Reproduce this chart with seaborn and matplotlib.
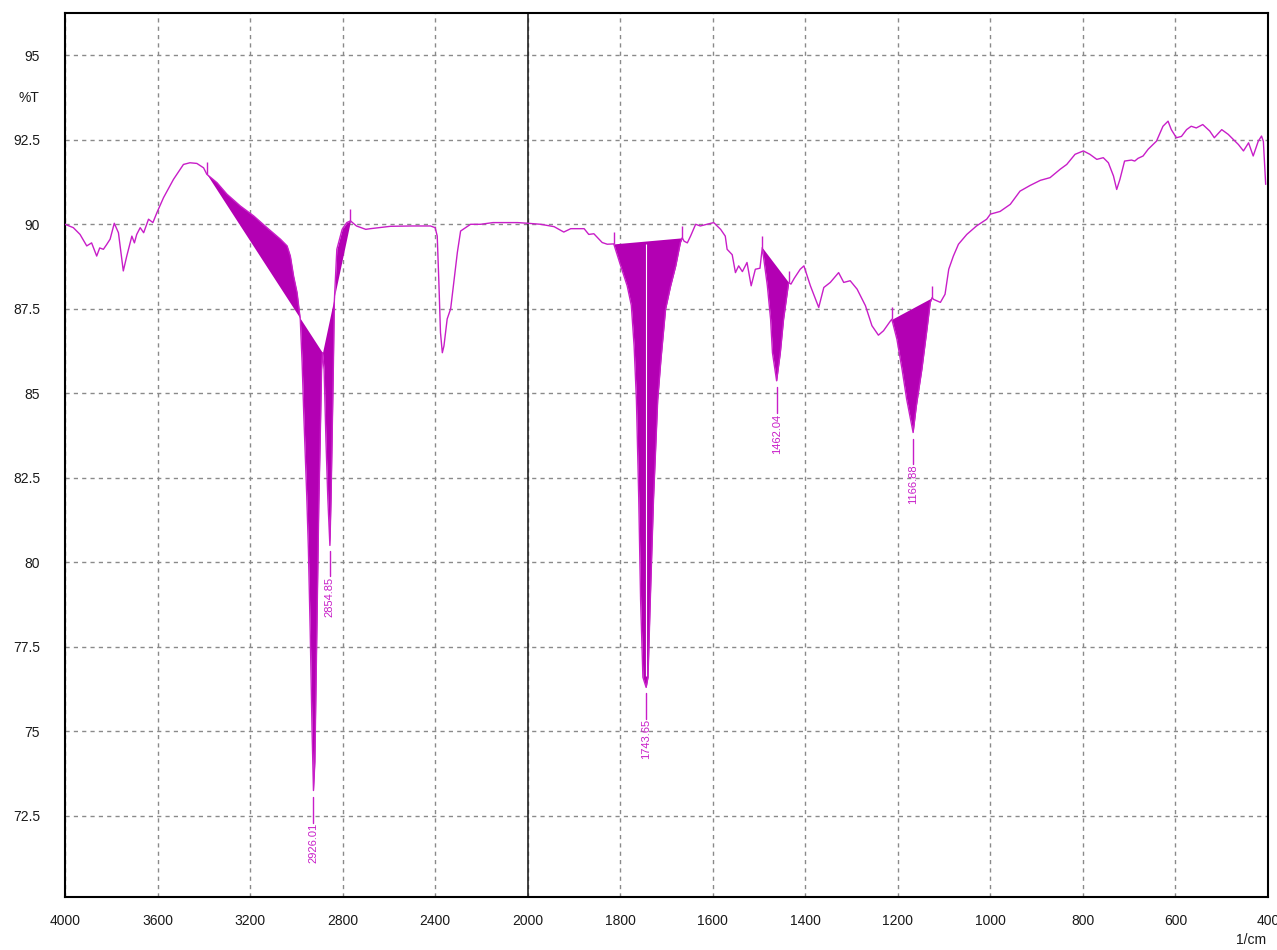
import numpy as np
import pandas as pd
import seaborn as sns
import matplotlib.pyplot as plt
from matplotlib.ticker import FixedLocator

# Spectrum (wavenumber in 1/cm, transmittance in %T)
wavenumber = [
    4000, 3964, 3935, 3906, 3885, 3863, 3850, 3834, 3820, 3805, 3787, 3769, 3748, 3733,
    3711, 3700, 3690, 3675, 3660, 3639, 3620, 3603, 3574, 3531, 3488, 3460, 3430, 3401,
    3387, 3343, 3300, 3242, 3185, 3127, 3069, 3040, 3026, 3012, 2997, 2983, 2975, 2968,
    2955, 2948, 2940, 2932, 2926, 2920, 2912, 2903, 2897, 2891, 2887, 2880, 2872, 2864,
    2855, 2850, 2845, 2840, 2836, 2825, 2802, 2782, 2766, 2740, 2700, 2680, 2593, 2500,
    2420, 2400, 2391, 2384, 2377, 2369, 2362, 2348, 2333, 2319, 2304, 2290, 2247, 2203,
    2150, 2044, 2000, 1972, 1943, 1922, 1907, 1878, 1868, 1857, 1839, 1828, 1814, 1799,
    1785, 1776, 1770, 1765, 1760, 1756, 1751, 1744, 1740, 1735, 1728, 1719, 1712, 1702,
    1691, 1680, 1670, 1666, 1662, 1655, 1648, 1637, 1627, 1612, 1598, 1583, 1573, 1569,
    1558, 1551, 1544, 1536, 1526, 1517, 1508, 1498, 1493, 1482, 1475, 1471, 1462, 1454,
    1447, 1439, 1436, 1431, 1424, 1411, 1403, 1389, 1371, 1360, 1346, 1328, 1317, 1303,
    1288, 1270, 1256, 1242, 1231, 1216, 1213, 1202, 1191, 1181, 1167, 1160, 1148, 1137,
    1130, 1126, 1123, 1108, 1098, 1090, 1080, 1069, 1051, 1030, 1008, 1000, 979, 957,
    936, 914, 892, 871, 849, 835, 817, 799, 785, 770, 756, 745, 734, 727,
    720, 710, 695, 688, 681, 670, 659, 641, 627, 616, 609, 598, 587, 576,
    566, 555, 541, 526, 516, 500, 486, 475, 464, 453, 442, 432, 421, 414,
    410, 405,
]
transmittance = [
    90.0, 89.9, 89.7, 89.36, 89.45, 89.06, 89.3, 89.26, 89.4, 89.56, 90.03, 89.75, 88.62, 89.06,
    89.65, 89.45, 89.7, 89.9, 89.75, 90.15, 90.05, 90.34, 90.79, 91.33, 91.77, 91.82, 91.8, 91.67,
    91.48, 91.23, 90.89, 90.54, 90.25, 89.9, 89.56, 89.36, 89.06, 88.47, 87.98, 87.19, 85.9, 84.4,
    81.96, 80.4, 77.94, 75.0, 73.25, 74.1, 77.7, 81.7, 83.6, 85.7, 86.2, 85.7, 83.6, 81.9,
    80.5, 81.9, 83.8, 85.8, 87.7, 89.26, 89.85, 90.05, 90.1, 89.95, 89.85, 89.87, 89.94, 89.95,
    89.95, 89.9, 89.65, 88.3, 86.8, 86.2, 86.4, 87.2, 87.5, 88.3, 89.17, 89.8, 90.0, 90.0,
    90.05, 90.05, 90.03, 90.0, 89.93, 89.77, 89.87, 89.87, 89.7, 89.72, 89.46, 89.41, 89.42, 88.77,
    88.18, 87.6, 86.4, 84.8, 81.9, 78.9, 76.6, 76.3, 76.6, 78.9, 81.9, 84.8, 86.0, 87.49,
    88.18, 88.77, 89.46, 89.6, 89.5, 89.45, 89.65, 90.0, 89.95, 90.0, 90.05, 89.85, 89.65, 89.26,
    89.1, 88.57, 88.77, 88.6, 88.87, 88.18, 88.67, 88.7, 89.31, 88.18, 87.19, 86.2, 85.37, 86.2,
    87.19, 87.98, 88.28, 88.23, 88.4, 88.67, 88.77, 88.18, 87.54, 88.13, 88.28, 88.57, 88.28, 88.33,
    88.08, 87.59, 87.0, 86.72, 86.85, 87.14, 87.19, 86.6, 85.72, 84.83, 83.84, 84.63, 85.72, 86.9,
    87.69, 87.83, 87.78, 87.69, 87.93, 88.67, 89.06, 89.41, 89.7, 89.95, 90.15, 90.3, 90.38, 90.59,
    90.98, 91.15, 91.3, 91.38, 91.63, 91.77, 92.07, 92.17, 92.07, 91.92, 91.97, 91.82, 91.43, 91.03,
    91.33, 91.87, 91.9, 91.87, 91.95, 92.02, 92.22, 92.46, 92.9, 93.05, 92.8, 92.56, 92.6, 92.8,
    92.9, 92.85, 92.95, 92.76, 92.56, 92.8, 92.66, 92.51, 92.36, 92.17, 92.41, 92.02, 92.46, 92.61,
    92.45, 91.18,
]

# Peak picking regions (start, end) and picked peaks
region_start = [3387, 2887, 1814, 1493, 1213]
region_end = [2887, 2766, 1666, 1436, 1126]
region_marks = [3387, 2766, 1814, 1666, 1493, 1436, 1213, 1126]
peak_wn = [2926.01, 2854.85, 1743.65, 1462.04, 1166.88]

x_major = [4000, 3600, 3200, 2800, 2400, 2000, 1800, 1600, 1400, 1200, 1000, 800, 600, 400]
y_major = [72.5, 75, 77.5, 80, 82.5, 85, 87.5, 90, 92.5, 95]
y_labels = ["72.5", "75", "77.5", "80", "82.5", "85", "87.5", "90", "92.5", "95"]

line_color = "#c81ec8"
fill_color = "#b300b3"

df = pd.DataFrame({"wn": wavenumber, "T": transmittance})
wn = df["wn"].to_numpy(float)
t = df["T"].to_numpy(float)


def t_at(x):
    return np.interp(x, wn[::-1], t[::-1])


# x axis is compressed 2:1 above 2000 1/cm, like the instrument printout
def fwd(x):
    x = np.asarray(x, float)
    return np.where(x >= 2000, x, 2 * x - 2000)


def inv(y):
    y = np.asarray(y, float)
    return np.where(y >= 2000, y, (y + 2000) / 2)


sns.set_style("white")
plt.rcParams["font.family"] = ["Liberation Sans", "DejaVu Sans"]

fig = plt.figure(figsize=(12.77, 9.5), dpi=100)
ax = fig.add_axes([65 / 1277, 53 / 950, 1203 / 1277, 884 / 950])

sns.lineplot(data=df, x="wn", y="T", color=line_color, lw=1, sort=False,
             estimator=None, ax=ax, zorder=3)

# filled peak areas between spectrum and local baseline
for s, e in zip(region_start, region_end):
    m = (wn <= s) & (wn >= e)
    xs, ys = wn[m], t[m]
    base = np.interp(xs, [e, s], [t_at(e), t_at(s)])
    ax.fill_between(xs, ys, base, color=fill_color, lw=0, zorder=2)

ax.vlines(region_marks, t_at(region_marks), t_at(region_marks) + 0.35,
          color=line_color, lw=1, zorder=3)

# white marker inside the carbonyl band
i = 2
s, e = region_start[i], region_end[i]
b = np.interp(peak_wn[i], [e, s], [t_at(e), t_at(s)])
ax.vlines(peak_wn[i], t_at(peak_wn[i]) + 0.3, b - 0.1, color="white", lw=0.8, zorder=3)

# peak labels
for p in peak_wn:
    tip = t_at(p)
    ax.plot([p, p], [tip - 0.2, tip - 0.95], color=line_color, lw=1, zorder=3)
    ax.text(p, tip - 0.97, f"{p:.2f}", rotation=90, ha="center", va="top",
            fontsize=8, color=line_color)

ax.set_xscale("function", functions=(fwd, inv))
ax.set_xlim(4000, 400)
ax.set_ylim(70.1, 96.25)

ax.xaxis.set_major_locator(FixedLocator(x_major))
ax.set_xticklabels([str(v) for v in x_major])
x_minor = [v for v in range(4000, 2000, -80)] + [v for v in range(2000, 399, -40)]
ax.xaxis.set_minor_locator(FixedLocator(x_minor))
ax.set_yticks(y_major)
ax.set_yticklabels(y_labels)
ax.set_yticks(np.arange(70.5, 96.1, 0.5), minor=True)

ax.tick_params(axis="both", which="both", direction="out", color="black",
               width=1.3, labelsize=10, labelcolor="#1a1a1a")
ax.tick_params(axis="y", which="major", length=13, pad=5)
ax.tick_params(axis="y", which="minor", length=7)
ax.tick_params(axis="x", which="major", length=8, pad=4)
ax.tick_params(axis="x", which="minor", length=6)

ax.grid(True, which="major", color="#8a8a8a", lw=1, linestyle=(0, (3, 3)))
ax.axvline(2000, color="#222222", lw=1.2, zorder=1.5)

for sp in ax.spines.values():
    sp.set_color("black")
    sp.set_linewidth(1.5)

ax.set_xlabel("")
ax.set_ylabel("")
ax.text(-0.021, 93.75, "%T", transform=ax.get_yaxis_transform(), ha="right",
        va="center", fontsize=10, color="#1a1a1a")
ax.text(0.9985, -0.049, "1/cm", transform=ax.transAxes, ha="right", va="center",
        fontsize=10, color="#1a1a1a")

fig.savefig("out.png", dpi=100)
